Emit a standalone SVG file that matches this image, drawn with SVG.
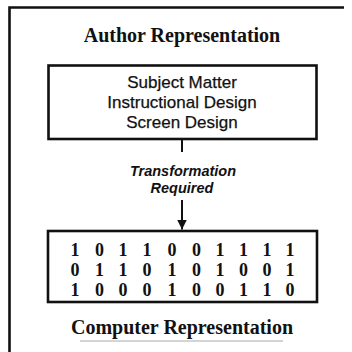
<svg xmlns="http://www.w3.org/2000/svg" width="352" height="352" viewBox="0 0 352 352">
<style>
.box{fill:none;stroke:#111;stroke-width:2.6}
.frame{fill:none;stroke:#111;stroke-width:2.6}
.title{font-family:"Liberation Serif","Times New Roman",serif;font-weight:bold;font-size:20px;fill:#111;text-anchor:middle}
.sans{font-family:"Liberation Sans",Arial,sans-serif;font-size:17px;fill:#111;text-anchor:middle;stroke:#111;stroke-width:0.25}
.lab{font-family:"Liberation Sans",Arial,sans-serif;font-style:italic;font-weight:bold;font-size:14.5px;fill:#111;text-anchor:middle}
.bits{font-family:"Liberation Serif","Times New Roman",serif;font-weight:bold;font-size:18px;fill:#111;text-anchor:middle}
.conn{fill:none;stroke:#111;stroke-width:2}
</style>
<defs>
<marker id="ah" viewBox="0 0 10 10" refX="10" refY="5" markerWidth="5" markerHeight="5" markerUnits="strokeWidth" orient="auto">
<path d="M0,0 L10,5 L0,10 Z" fill="#111"/>
</marker>
</defs>
<rect width="352" height="352" fill="#fff"/>
<g id="frame">
<path class="frame" d="M9.5,352 V7.5 H344"/>
<line x1="80" y1="341" x2="283" y2="341" stroke="#aaa" stroke-width="1.2"/>
</g>
<g id="author-title">
<text class="title" x="182" y="42">Author Representation</text>
</g>
<g id="author-box">
<rect class="box" x="48.5" y="65.5" width="268" height="73.5"/>
<text class="sans" x="182" y="88">Subject Matter</text>
<text class="sans" x="182" y="108">Instructional Design</text>
<text class="sans" x="182" y="128">Screen Design</text>
</g>
<g id="connectors">
<line class="conn" x1="182" y1="140" x2="182" y2="152"/>
<line class="conn" x1="182" y1="200" x2="182" y2="229.5" marker-end="url(#ah)"/>
<text class="lab" x="183" y="176">Transformation</text>
<text class="lab" x="182" y="193">Required</text>
</g>
<g id="computer-box">
<rect class="box" x="48" y="231" width="269" height="71"/>
<g class="bits">
<text y="255.5"><tspan x="75">1</tspan><tspan x="99.5">0</tspan><tspan x="123">1</tspan><tspan x="147">1</tspan><tspan x="172">0</tspan><tspan x="196.5">0</tspan><tspan x="220">1</tspan><tspan x="243.5">1</tspan><tspan x="267">1</tspan><tspan x="290">1</tspan></text>
<text y="275.5"><tspan x="75">0</tspan><tspan x="99.5">1</tspan><tspan x="123">1</tspan><tspan x="147">0</tspan><tspan x="172">1</tspan><tspan x="196.5">0</tspan><tspan x="220">1</tspan><tspan x="243.5">0</tspan><tspan x="267">0</tspan><tspan x="290">1</tspan></text>
<text y="295.5"><tspan x="75">1</tspan><tspan x="99.5">0</tspan><tspan x="123">0</tspan><tspan x="147">0</tspan><tspan x="172">1</tspan><tspan x="196.5">0</tspan><tspan x="220">0</tspan><tspan x="243.5">1</tspan><tspan x="267">1</tspan><tspan x="290">0</tspan></text>
</g>
</g>
<g id="computer-title">
<text class="title" x="182" y="334">Computer Representation</text>
</g>
</svg>
